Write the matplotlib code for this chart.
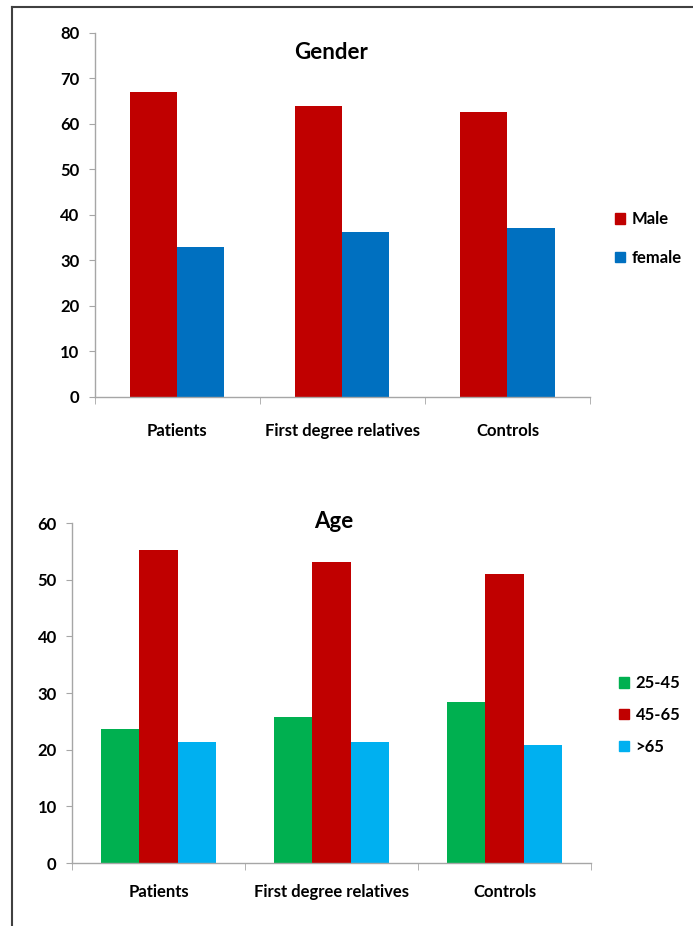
import numpy as np
import matplotlib
matplotlib.use("Agg")
import matplotlib.pyplot as plt
from matplotlib.lines import Line2D
from matplotlib.patches import Patch

plt.rcParams['font.family'] = ['Lato', 'DejaVu Sans']
plt.rcParams['font.weight'] = 'bold'

groups = ["Patients", "First degree relatives", "Controls"]

# gender split (%)
gender_labels = ["Male", "female"]
male = [67.0, 63.9, 62.6]
female = [33.0, 36.2, 37.2]

# age bands (%)
age_labels = ["25-45", "45-65", ">65"]
age_25_45 = [23.7, 25.8, 28.4]
age_45_65 = [55.3, 53.2, 51.0]
age_over_65 = [21.4, 21.4, 20.8]

RED = "#C00000"
BLUE = "#0070C0"
GREEN = "#00B050"
CYAN = "#00B0F0"
AXIS_GREY = "#A6A6A6"


def style_axes(ax, ymax, step):
    x = np.arange(len(groups))
    ax.set_xlim(-0.5, len(groups) - 0.5)
    ax.set_ylim(0, ymax)
    ax.set_yticks(np.arange(0, ymax + 1, step))
    for s in ["top", "right"]:
        ax.spines[s].set_visible(False)
    for s in ["left", "bottom"]:
        ax.spines[s].set_color(AXIS_GREY)
        ax.spines[s].set_linewidth(1.0)
    ax.tick_params(axis="y", direction="out", length=4, color=AXIS_GREY,
                   pad=7, labelsize=12)
    # category labels centred, tick marks at group boundaries
    ax.set_xticks(x)
    ax.set_xticklabels(groups, fontsize=12)
    ax.set_xticks(np.arange(-0.5, len(groups)), minor=True)
    ax.tick_params(axis="x", which="major", length=0, pad=19)
    ax.tick_params(axis="x", which="minor", length=5, color=AXIS_GREY)
    for lbl in ax.get_xticklabels() + ax.get_yticklabels():
        lbl.set_fontweight("bold")


def bars(ax, series, colors):
    n = len(series)
    w = 1.0 / (n + 1.5)
    x = np.arange(len(groups))
    for i, (vals, c) in enumerate(zip(series, colors)):
        ax.bar(x + (i - (n - 1) / 2) * w, vals, width=w, color=c,
               edgecolor="none")


fig = plt.figure(figsize=(6.93, 9.26), dpi=100)

# Gender chart
ax1 = fig.add_axes([0.1364, 0.5713, 0.7150, 0.3931])
bars(ax1, [male, female], [RED, BLUE])
style_axes(ax1, 80, 10)
fig.text(0.4776, 0.9428, "Gender", ha="center", va="center",
         fontsize=16, fontweight="bold")
h1 = [Patch(color=c) for c in [RED, BLUE]]
fig.legend(h1, gender_labels, loc="center left",
           bbox_to_anchor=(0.888, 0.7424), frameon=False, fontsize=12,
           handlelength=0.6, handleheight=0.6, handletextpad=0.4,
           labelspacing=1.35, borderpad=0, borderaxespad=0)

# Age chart
ax2 = fig.add_axes([0.1039, 0.0680, 0.7490, 0.3672])
bars(ax2, [age_25_45, age_45_65, age_over_65], [GREEN, RED, CYAN])
style_axes(ax2, 60, 10)
ax2.tick_params(axis="x", which="major", pad=15)
fig.text(0.482, 0.4363, "Age", ha="center", va="center",
         fontsize=16, fontweight="bold")
h2 = [Patch(color=c) for c in [GREEN, RED, CYAN]]
fig.legend(h2, age_labels, loc="center left",
           bbox_to_anchor=(0.893, 0.2279), frameon=False, fontsize=12,
           handlelength=0.6, handleheight=0.6, handletextpad=0.4,
           labelspacing=0.95, borderpad=0, borderaxespad=0)

# outer frame (top and left edges)
fig.add_artist(Line2D([12 / 693, 12 / 693], [0, 1 - 7 / 926],
                      color="#404040", linewidth=1.5))
fig.add_artist(Line2D([12 / 693, 1], [1 - 7 / 926, 1 - 7 / 926],
                      color="#404040", linewidth=1.5))

fig.savefig("out.png", dpi=100)
